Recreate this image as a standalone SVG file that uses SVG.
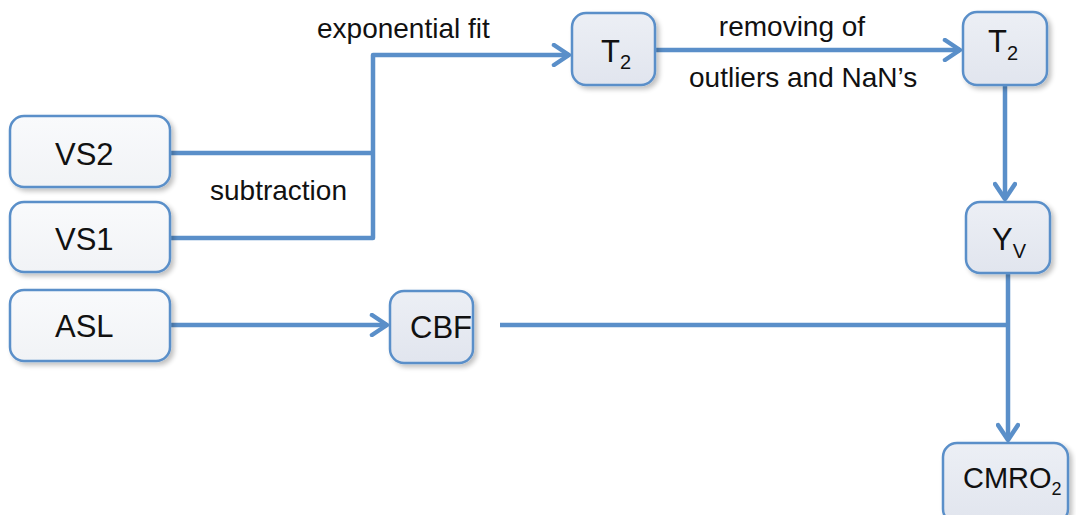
<svg xmlns="http://www.w3.org/2000/svg" width="1076" height="515" viewBox="0 0 1076 515">
  <style>
    .node rect { stroke: #5a8fc9; stroke-width: 2.5; filter: url(#shadow); }
    .src rect { fill: url(#lightFill); }
    .res rect { fill: url(#blueFill); }
    .node text { font-family: "Liberation Sans", Arial, sans-serif; font-size: 31px; fill: #111; }
    .node tspan { font-size: 20px; }
    .label { font-family: "Liberation Sans", Arial, sans-serif; font-size: 28px; fill: #111; }
    .wire { fill: none; stroke: #5a8fc9; stroke-width: 4.5; stroke-linejoin: round; }
  </style>
  <defs>
    <linearGradient id="lightFill" x1="0" y1="0" x2="0" y2="1">
      <stop offset="0" stop-color="#f9fafc"/>
      <stop offset="1" stop-color="#f1f3f6"/>
    </linearGradient>
    <linearGradient id="blueFill" x1="0" y1="0" x2="0" y2="1">
      <stop offset="0" stop-color="#eceff5"/>
      <stop offset="1" stop-color="#e1e5ee"/>
    </linearGradient>
    <filter id="shadow" x="-20%" y="-20%" width="150%" height="150%">
      <feGaussianBlur in="SourceAlpha" stdDeviation="2.5"/>
      <feOffset dx="3" dy="3" result="blur"/>
      <feComponentTransfer><feFuncA type="linear" slope="0.25"/></feComponentTransfer>
      <feMerge><feMergeNode/><feMergeNode in="SourceGraphic"/></feMerge>
    </filter>
    <!-- open chevron arrowhead, tip at the path end -->
    <marker id="arrow" viewBox="-2 -2 24 24" refX="18" refY="10" markerWidth="24" markerHeight="24" markerUnits="userSpaceOnUse" orient="auto">
      <path d="M3,0 L18,10 L3,20" fill="none" stroke="#5a8fc9" stroke-width="4.5" stroke-linecap="round" stroke-linejoin="round"/>
    </marker>
  </defs>

  <!-- connectors -->
  <g id="connectors">
    <path class="wire" d="M170,153 H373"/>
    <path class="wire" d="M170,238 H373 V55 H569" marker-end="url(#arrow)"/>
    <path class="wire" d="M655,50 H960" marker-end="url(#arrow)"/>
    <path class="wire" d="M1005,85 V199" marker-end="url(#arrow)"/>
    <path class="wire" d="M170,325 H387" marker-end="url(#arrow)"/>
    <path class="wire" d="M500,325 H1008"/>
    <path class="wire" d="M1008,273 V440" marker-end="url(#arrow)"/>
  </g>

  <!-- edge labels -->
  <text class="label" x="317" y="38">exponential fit</text>
  <text class="label" x="792" y="36" text-anchor="middle">removing of</text>
  <text class="label" x="689" y="87">outliers and NaN’s</text>
  <text class="label" x="210" y="200">subtraction</text>

  <!-- nodes -->
  <g id="vs2" class="node src">
    <rect x="10" y="116" width="160" height="71" rx="14"/>
    <text x="55" y="165">VS2</text>
  </g>
  <g id="vs1" class="node src">
    <rect x="10" y="202" width="160" height="70" rx="14"/>
    <text x="55" y="250">VS1</text>
  </g>
  <g id="asl" class="node src">
    <rect x="10" y="290" width="160" height="71" rx="14"/>
    <text x="55" y="337">ASL</text>
  </g>
  <g id="t2-fit" class="node res">
    <rect x="572" y="13" width="83" height="72" rx="14"/>
    <text x="601" y="62">T<tspan dy="7">2</tspan></text>
  </g>
  <g id="t2-clean" class="node res">
    <rect x="963" y="12" width="84" height="73" rx="14"/>
    <text x="988" y="52">T<tspan dy="8">2</tspan></text>
  </g>
  <g id="yv" class="node res">
    <rect x="966" y="202" width="84" height="71" rx="14"/>
    <text x="992" y="250">Y<tspan dy="8">V</tspan></text>
  </g>
  <g id="cbf" class="node res">
    <rect x="390" y="291" width="83" height="72" rx="14"/>
    <text x="410" y="338">CBF</text>
  </g>
  <g id="cmro2" class="node res">
    <rect x="943" y="443" width="125" height="80" rx="14"/>
    <text x="963" y="488" style="font-size:29px">CMRO<tspan dy="7" style="font-size:18px">2</tspan></text>
  </g>
</svg>
